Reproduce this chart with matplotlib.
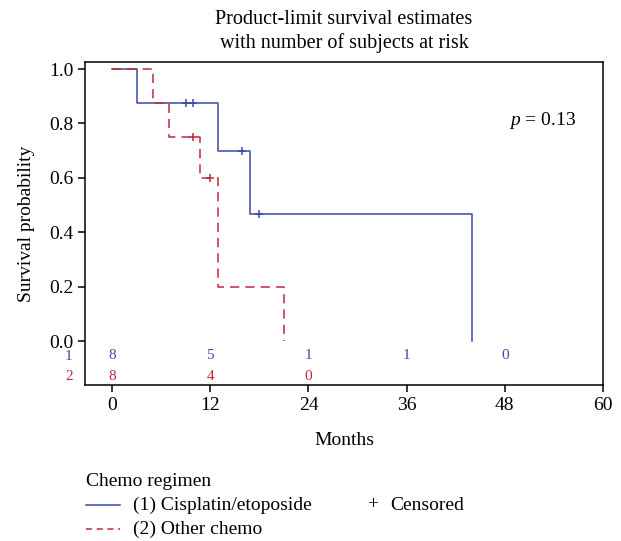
import matplotlib.pyplot as plt
from matplotlib.lines import Line2D

# step curves (time, survival)
blue_t = [0, 3, 13, 16.8, 44]
blue_s = [1.0, 0.875, 0.7, 0.467, 0.0]
blue_cens_t = [9.0, 9.9, 15.9, 17.9]
blue_cens_s = [0.875, 0.875, 0.7, 0.467]

red_t = [0, 5, 7, 10.8, 13, 21]
red_s = [1.0, 0.875, 0.75, 0.6, 0.2, 0.0]
red_cens_t = [9.9, 12.0]
red_cens_s = [0.75, 0.6]

risk_times = [0, 12, 24, 36, 48]
blue_risk = [8, 5, 1, 1, 0]
red_risk = [8, 4, 0]

blue = '#3a4aa6'
red = '#c0283a'

plt.rcParams['font.family'] = ['Liberation Serif', 'DejaVu Serif']
plt.rcParams['mathtext.fontset'] = 'custom'
plt.rcParams['mathtext.it'] = 'Liberation Serif:italic'
plt.rcParams['mathtext.rm'] = 'Liberation Serif'

fs = 14

fig = plt.figure(figsize=(6.21, 5.41), dpi=100)
ax = fig.add_axes([0.137, 0.288, 0.834, 0.598])

ax.step(blue_t, blue_s, where='post', color=blue, lw=1.1)
ax.step(red_t, red_s, where='post', color=red, lw=1.1, dashes=(6, 4))
ax.plot(blue_cens_t, blue_cens_s, '+', color=blue, ms=6, mew=1.1)
ax.plot(red_cens_t, red_cens_s, '+', color=red, ms=6, mew=1.1)

# numbers at risk
for t, n in zip(risk_times, blue_risk):
    ax.text(t, -0.054, str(n), color=blue, ha='center', va='center', fontsize=11)
for t, n in zip(risk_times, red_risk):
    ax.text(t, -0.129, str(n), color=red, ha='center', va='center', fontsize=11)
ax.text(-5.3, -0.058, '1', color=blue, ha='center', va='center', fontsize=11, clip_on=False)
ax.text(-5.3, -0.129, '2', color=red, ha='center', va='center', fontsize=11, clip_on=False)

ax.text(52.6, 0.81, r'$p$ = 0.13', fontsize=fs, ha='center', va='center')

ax.set_xlim(-3.3, 60)
ax.set_ylim(-0.162, 1.027)
ax.set_xticks([0, 12, 24, 36, 48, 60])
ax.set_yticks([0, 0.2, 0.4, 0.6, 0.8, 1.0])
ax.set_yticklabels(['0.0', '0.2', '0.4', '0.6', '0.8', '1.0'])
ax.tick_params(labelsize=fs, length=5, width=1.1, direction='out')
for sp in ax.spines.values():
    sp.set_linewidth(1.1)
ax.set_xlabel('Months', fontsize=fs, labelpad=13)
ax.set_ylabel('Survival probability', fontsize=fs, labelpad=10)
ax.set_title('Product-limit survival estimates\nwith number of subjects at risk',
             fontsize=14.5, pad=10, linespacing=1.25)

# legend drawn by hand under the plot
fig.text(86 / 621, 1 - 481 / 541, 'Chemo regimen', fontsize=fs, va='center')
fig.add_artist(Line2D([86 / 621, 120 / 621], [1 - 505 / 541] * 2, color=blue, lw=1.1))
fig.add_artist(Line2D([86 / 621, 120 / 621], [1 - 529 / 541] * 2, color=red, lw=1.1, dashes=(4, 3)))
fig.text(133 / 621, 1 - 505 / 541, '(1) Cisplatin/etoposide', fontsize=fs, va='center')
fig.text(133 / 621, 1 - 529 / 541, '(2) Other chemo', fontsize=fs, va='center')
fig.text(367 / 621, 1 - 505 / 541, '+', fontsize=fs, va='center')
fig.text(390 / 621, 1 - 505 / 541, 'Censored', fontsize=fs, va='center')

fig.savefig('out.png', dpi=100)
